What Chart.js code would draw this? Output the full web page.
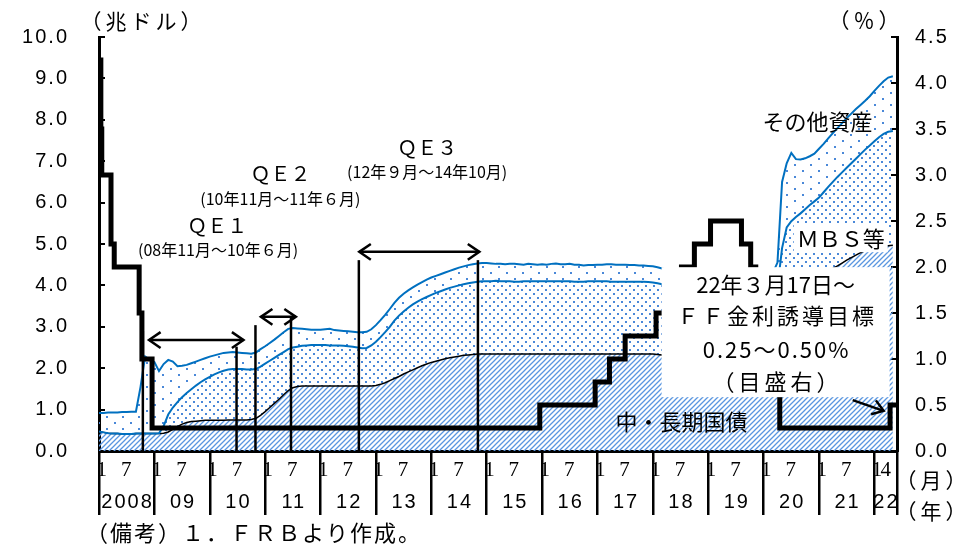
<!DOCTYPE html>
<html><head><meta charset="utf-8">
<script src="https://cdn.jsdelivr.net/npm/chart.js@4/dist/chart.umd.min.js"></script>
<style>html,body{margin:0;padding:0;background:#fff;}</style>
</head><body>
<canvas id="c" width="977" height="546"></canvas>
<script>
// ---------------- data (monthly, Jan 2008 .. May 2022) ----------------
const yearLabels = ['2008','09','10','11','12','13','14','15','16','17','18','19','20','21','22'];
const monthLabels = ['1','7'];
const lastYearMonthLabels = ['1','4'];
const leftTickValues = [0,1,2,3,4,5,6,7,8,9,10];
const rightTickValues = [0,0.5,1,1.5,2,2.5,3,3.5,4,4.5];

// 中・長期国債 (level, trillion $)
const treasury = [
 0.47,0.45,0.43,0.42,0.42,0.41,0.41,0.41,0.42,0.42,0.42,0.42,
 0.42,0.42,0.43,0.46,0.52,0.59,0.65,0.69,0.71,0.72,0.73,0.74,
 0.74,0.74,0.74,0.74,0.75,0.75,0.75,0.75,0.75,0.76,0.79,0.86,
 0.95,1.05,1.15,1.25,1.36,1.46,1.53,1.56,1.57,1.57,1.57,1.57,
 1.57,1.57,1.57,1.57,1.57,1.57,1.57,1.57,1.57,1.57,1.57,1.57,
 1.58,1.61,1.65,1.70,1.75,1.80,1.86,1.91,1.96,2.01,2.06,2.10,
 2.14,2.17,2.20,2.23,2.25,2.27,2.29,2.31,2.32,2.33,2.34,2.34,
 2.34,2.34,2.34,2.34,2.34,2.34,2.34,2.34,2.34,2.34,2.34,2.34,
 2.34,2.34,2.34,2.34,2.34,2.34,2.34,2.34,2.34,2.34,2.34,2.34,
 2.34,2.34,2.34,2.34,2.34,2.34,2.34,2.34,2.34,2.34,2.34,2.34,
 2.34,2.33,2.32,2.30,2.28,2.26,2.24,2.22,2.20,2.18,2.16,2.14,
 2.12,2.10,2.08,2.06,2.05,2.04,2.03,2.03,2.03,2.03,2.04,2.05,
 2.05,2.06,2.10,2.30,3.10,3.50,3.70,3.85,3.95,4.03,4.10,4.15,
 4.20,4.27,4.34,4.41,4.47,4.54,4.61,4.67,4.73,4.79,4.84,4.87,
 4.90,4.92,4.94,4.96,4.97
];
// 中・長期国債 + ＭＢＳ等 (level)
const treasuryPlusMbs = [
 0.47,0.45,0.43,0.42,0.42,0.41,0.41,0.41,0.42,0.42,0.42,0.42,
 0.42,0.43,0.60,0.88,1.05,1.18,1.30,1.40,1.49,1.58,1.66,1.73,
 1.79,1.85,1.90,1.94,1.97,1.98,1.98,1.98,1.97,1.97,1.98,2.04,
 2.11,2.18,2.25,2.32,2.39,2.46,2.50,2.52,2.54,2.55,2.56,2.56,
 2.56,2.56,2.55,2.55,2.55,2.54,2.53,2.52,2.50,2.48,2.49,2.55,
 2.64,2.75,2.87,3.00,3.15,3.27,3.37,3.46,3.54,3.61,3.67,3.72,
 3.77,3.82,3.86,3.90,3.94,3.97,4.00,4.03,4.05,4.07,4.09,4.10,
 4.10,4.10,4.11,4.10,4.10,4.10,4.09,4.09,4.10,4.10,4.10,4.10,
 4.10,4.10,4.10,4.10,4.10,4.10,4.10,4.09,4.09,4.09,4.10,4.10,
 4.10,4.10,4.10,4.09,4.09,4.09,4.09,4.09,4.09,4.09,4.09,4.08,
 4.07,4.05,4.03,4.00,3.97,3.94,3.91,3.88,3.85,3.81,3.78,3.75,
 3.72,3.69,3.66,3.63,3.61,3.59,3.57,3.55,3.53,3.52,3.55,3.60,
 3.62,3.65,3.75,3.95,4.90,5.40,5.55,5.65,5.74,5.84,5.94,6.03,
 6.12,6.25,6.38,6.50,6.62,6.73,6.84,6.95,7.06,7.17,7.28,7.38,
 7.48,7.58,7.66,7.71,7.73
];
// 総資産 (level, top line)
const totalAssets = [
 0.92,0.92,0.93,0.93,0.93,0.94,0.94,0.95,0.95,1.55,2.28,2.20,
 2.15,1.93,2.10,2.20,2.16,2.05,2.06,2.08,2.12,2.16,2.20,2.24,
 2.28,2.31,2.34,2.37,2.38,2.39,2.38,2.37,2.36,2.35,2.38,2.46,
 2.53,2.61,2.69,2.78,2.87,2.95,2.97,2.96,2.95,2.94,2.93,2.93,
 2.93,2.94,2.95,2.92,2.91,2.90,2.89,2.88,2.87,2.87,2.88,2.94,
 3.04,3.16,3.29,3.43,3.58,3.70,3.80,3.88,3.95,4.02,4.08,4.14,
 4.19,4.23,4.27,4.31,4.35,4.39,4.43,4.46,4.49,4.51,4.53,4.54,
 4.54,4.53,4.52,4.52,4.51,4.52,4.52,4.51,4.50,4.52,4.51,4.50,
 4.51,4.50,4.52,4.53,4.51,4.51,4.52,4.50,4.50,4.48,4.49,4.49,
 4.50,4.50,4.51,4.51,4.50,4.50,4.50,4.49,4.49,4.48,4.48,4.47,
 4.46,4.44,4.41,4.38,4.35,4.31,4.28,4.24,4.20,4.16,4.12,4.08,
 4.05,4.00,3.96,3.92,3.88,3.85,3.82,3.79,3.80,3.92,4.05,4.15,
 4.17,4.20,4.30,4.55,6.50,6.95,7.20,7.05,7.04,7.07,7.12,7.18,
 7.30,7.42,7.55,7.68,7.80,7.92,8.04,8.15,8.26,8.36,8.46,8.57,
 8.70,8.82,8.93,9.02,9.05
];
// FF rate target (upper bound, %), change points in months since Jan 2008
const ffMonth = [0,0.4,0.6,2.6,3.3,8.7,9.3,11.5,95.5,107.5,110.6,114,120.7,122.7,126.2,129,132.5,139.2,141.2,142.3,146.3,147.5,171.4,172.9];
const ffRate  = [4.25,3.5,3.0,2.25,2.0,1.5,1.0,0.25,0.5,0.75,1.0,1.25,1.5,1.75,2.0,2.25,2.5,2.25,2.0,1.75,1.25,0.25,0.5,0.5];

// ---------------- presentation ----------------
const X_MAX = 172.9;
const JP = '"Noto Sans CJK JP", "Noto Sans", sans-serif';

const monthTicks = [];
const boundarySet = new Set();
yearLabels.forEach((y, i) => {
  const b = 12 * i;
  boundarySet.add(b);
  monthTicks.push({ v: b, label: '' });
  if (i < yearLabels.length - 1) {
    monthTicks.push({ v: b + 0.8, label: monthLabels[0] });
    monthTicks.push({ v: b + 6.1, label: monthLabels[1] });
  } else {
    monthTicks.push({ v: b + 0.8, label: lastYearMonthLabels[0] });
    monthTicks.push({ v: b + 2.7, label: lastYearMonthLabels[1] });
  }
});
boundarySet.add(X_MAX);
monthTicks.push({ v: X_MAX, label: '' });

const yearTicks = yearLabels.map((y, i) => ({ v: i < yearLabels.length - 1 ? 12 * i + 6.2 : 170.6, label: y }));

const ctx0 = document.getElementById('c').getContext('2d');
function pattern(w, h, draw) {
  const c = document.createElement('canvas'); c.width = w; c.height = h;
  const g = c.getContext('2d'); draw(g);
  return ctx0.createPattern(c, 'repeat');
}
const hatch = pattern(5, 5, g => {
  g.strokeStyle = '#5a96e0'; g.lineWidth = 1.3;
  g.beginPath(); g.moveTo(0, 5); g.lineTo(5, 0); g.moveTo(-1, 1); g.lineTo(1, -1); g.moveTo(4, 6); g.lineTo(6, 4); g.stroke();
});
const denseDots = pattern(8, 8, g => {
  g.fillStyle = '#4a88d8'; g.fillRect(1, 1, 2, 2); g.fillRect(5, 5, 2, 2);
});
const sparseDots = pattern(16, 12, g => {
  g.fillStyle = '#4a88d8'; g.fillRect(2, 2, 2, 2); g.fillRect(10, 8, 2, 2);
});

const pts = arr => arr.map((v, i) => ({ x: i, y: v }));

// annotation config (data coordinates: month index, left-axis value)
const qeLines = [ {m:9.5, top:2.9}, {m:29.8, top:2.52}, {m:33.9, top:3.04}, {m:41.6, top:3.24}, {m:56.3, top:4.61}, {m:82.1, top:4.61} ];
const qeArrows = [ {m1:10.84, m2:31.3, v:2.68}, {m1:35.07, m2:42.66, v:3.24}, {m1:56.39, m2:82.41, v:4.81} ];
const labels = [
  {t:'ＱＥ１', m:25.6, v:5.46, s:20},
  {t:'(08年11月～10年６月)', m:25.8, v:4.86, s:16},
  {t:'ＱＥ２', m:39.3, v:6.71, s:20},
  {t:'(10年11月～11年６月)', m:39.3, v:6.09, s:16},
  {t:'ＱＥ３', m:71.1, v:7.34, s:20},
  {t:'(12年９月～14年10月)', m:71.1, v:6.74, s:16},
  {t:'その他資産', m:155.7, v:7.95, s:22},
  {t:'ＭＢＳ等', m:160.7, v:5.14, s:22, bg:true},
  {t:'中・長期国債', m:126.2, v:0.70, s:22}
];
const boxArea = {m1:121.9, m2:171.3, v1:4.44, v2:1.30};
const boxLines = [
  {t:'22年３月17日～', v:4.01, ls:0},
  {t:'ＦＦ金利誘導目標', v:3.26, ls:3},
  {t:'0.25～0.50%', v:2.46, ls:2},
  {t:'（目盛右）', v:1.67, ls:4}
];
const boxTextM = 146.6;
const boxArrow = {m1:163.3, v1:1.23, m2:170.0, v2:0.97};

function text(ctx, s, x, y, size, opt = {}) {
  ctx.save();
  ctx.font = size + 'px ' + (opt.family || JP);
  ctx.textAlign = opt.align || 'center';
  ctx.textBaseline = 'middle';
  ctx.letterSpacing = (opt.ls || 0) + 'px';
  const dx = (opt.align || 'center') === 'center' ? (opt.ls || 0) / 2 : 0;
  if (opt.bg) {
    const w = ctx.measureText(s).width;
    ctx.fillStyle = '#fff';
    ctx.fillRect(x - w / 2 - 3, y - size / 2 - 3, w + 6, size + 6);
  }
  ctx.fillStyle = '#000';
  ctx.fillText(s, x + dx, y);
  ctx.restore();
}
function arrow(ctx, x1, y1, x2, y2, both, head, w) {
  ctx.save();
  ctx.strokeStyle = '#000'; ctx.lineWidth = w; ctx.lineJoin = 'miter';
  ctx.beginPath(); ctx.moveTo(x1, y1); ctx.lineTo(x2, y2); ctx.stroke();
  const ang = Math.atan2(y2 - y1, x2 - x1), a = 0.6;
  const tip = (x, y, an) => {
    ctx.beginPath();
    ctx.moveTo(x - head * Math.cos(an - a), y - head * Math.sin(an - a));
    ctx.lineTo(x, y);
    ctx.lineTo(x - head * Math.cos(an + a), y - head * Math.sin(an + a));
    ctx.stroke();
  };
  tip(x2, y2, ang);
  if (both) tip(x1, y1, ang + Math.PI);
  ctx.restore();
}

const annot = {
  id: 'annot',
  beforeDraw(chart) { chart.ctx.letterSpacing = '2px'; },
  beforeDatasetsDraw(chart) { chart.ctx.letterSpacing = '0px'; },
  afterDatasetsDraw(chart) {
    const ctx = chart.ctx, X = chart.scales.x, Y = chart.scales.y;
    const px = m => X.getPixelForValue(m), py = v => Y.getPixelForValue(v);
    ctx.save();
    ctx.strokeStyle = '#000'; ctx.lineWidth = 2.5;
    qeLines.forEach(l => { ctx.beginPath(); ctx.moveTo(px(l.m), py(l.top)); ctx.lineTo(px(l.m), py(0)); ctx.stroke(); });
    ctx.restore();
    qeArrows.forEach(a => arrow(ctx, px(a.m1), py(a.v), px(a.m2), py(a.v), true, 14, 2.5));
    // white box
    ctx.save(); ctx.fillStyle = '#fff';
    ctx.fillRect(px(boxArea.m1), py(boxArea.v1), px(boxArea.m2) - px(boxArea.m1), py(boxArea.v2) - py(boxArea.v1));
    ctx.restore();
    boxLines.forEach(b => text(ctx, b.t, px(boxTextM), py(b.v), 22, {ls: b.ls}));
    arrow(ctx, px(boxArrow.m1), py(boxArrow.v1), px(boxArrow.m2), py(boxArrow.v2), false, 13, 2.5);
    labels.forEach(l => text(ctx, l.t, px(l.m), py(l.v), l.s, {bg: l.bg}));
  },
  afterDraw(chart) {
    const ctx = chart.ctx;
    ctx.letterSpacing = '0px';
    text(ctx, '（兆ドル）', 141, 21, 21, {ls: 4});
    text(ctx, '（％）', 864, 20, 21, {ls: 4});
    text(ctx, '（月）', 931, 480, 21, {ls: 4});
    text(ctx, '（年）', 931, 511, 21, {ls: 4});
    text(ctx, '（備考）１．ＦＲＢより作成。', 86, 533, 22, {align: 'left', ls: 2});
  }
};

new Chart(ctx0, {
  type: 'line',
  data: {
    datasets: [
      { label: 'FF', data: ffMonth.map((m, i) => ({ x: m, y: ffRate[i] })), yAxisID: 'y1', xAxisID: 'x',
        stepped: true, borderColor: '#000', borderWidth: 5, pointRadius: 0, fill: false },
      { label: 'その他資産', data: pts(totalAssets), yAxisID: 'y', xAxisID: 'x',
        borderColor: '#0070C0', borderWidth: 2, backgroundColor: sparseDots, fill: '+1', pointRadius: 0, tension: 0 },
      { label: 'ＭＢＳ等', data: pts(treasuryPlusMbs), yAxisID: 'y', xAxisID: 'x',
        borderColor: '#0070C0', borderWidth: 2, backgroundColor: denseDots, fill: '+1', pointRadius: 0, tension: 0 },
      { label: '中・長期国債', data: pts(treasury), yAxisID: 'y', xAxisID: 'x',
        borderColor: '#000', borderWidth: 1.5, backgroundColor: hatch, fill: 'origin', pointRadius: 0, tension: 0 }
    ]
  },
  options: {
    responsive: false, animation: false, devicePixelRatio: 1,
    layout: { padding: { top: 37, left: 0, right: 0, bottom: 0 } },
    plugins: { legend: { display: false }, tooltip: { enabled: false }, filler: { drawTime: 'beforeDatasetsDraw' } },
    scales: {
      x: {
        type: 'linear', position: 'bottom', min: 0, max: X_MAX,
        afterBuildTicks: s => { s.ticks = monthTicks.map(t => ({ value: t.v })); },
        afterFit: s => { s.height = 30; s.paddingLeft = 0; s.paddingRight = 0; },
        ticks: { autoSkip: false, maxRotation: 0, minRotation: 0, padding: -55, color: '#000',
          font: { family: '"Liberation Serif", serif', size: 21, lineHeight: '20px' },
          callback: (v, i) => monthTicks[i] ? monthTicks[i].label : '' },
        grid: { drawOnChartArea: false, drawTicks: true, tickLength: 64, lineWidth: 2.5,
          color: c => (c.tick && boundarySet.has(c.tick.value)) ? '#000' : 'rgba(0,0,0,0)' },
        border: { display: true, color: '#000', width: 3 }
      },
      xYear: {
        type: 'linear', position: 'bottom', min: 0, max: X_MAX,
        afterBuildTicks: s => { s.ticks = yearTicks.map(t => ({ value: t.v })); },
        afterFit: s => { s.height = 65; s.paddingLeft = 0; s.paddingRight = 0; },
        ticks: { autoSkip: false, maxRotation: 0, minRotation: 0, padding: 10, color: '#000',
          font: { family: '"Liberation Sans", Arial, sans-serif', size: 20, lineHeight: '22px' },
          callback: (v, i) => yearTicks[i] ? yearTicks[i].label : '' },
        grid: { display: false, drawTicks: false, drawOnChartArea: false },
        border: { display: false }
      },
      y: {
        type: 'linear', position: 'left', min: 0, max: 10,
        afterBuildTicks: s => { s.ticks = leftTickValues.map(v => ({ value: v })); },
        afterFit: s => { s.width = 99; s.paddingTop = 10; s.paddingBottom = 10; },
        ticks: { padding: 36, color: '#000', font: { family: '"Liberation Sans", Arial, sans-serif', size: 20 },
          callback: v => Number(v).toFixed(1) },
        grid: { drawOnChartArea: false, drawTicks: true, tickLength: -6, lineWidth: 2, color: '#000' },
        border: { display: true, color: '#000', width: 3 }
      },
      y1: {
        type: 'linear', position: 'right', min: 0, max: 4.5,
        afterBuildTicks: s => { s.ticks = rightTickValues.map(v => ({ value: v })); },
        afterFit: s => { s.width = 80; s.paddingTop = 10; s.paddingBottom = 10; },
        ticks: { padding: 24, color: '#000', font: { family: '"Liberation Sans", Arial, sans-serif', size: 20 },
          callback: v => Number(v).toFixed(1) },
        grid: { drawOnChartArea: false, drawTicks: true, tickLength: -6, lineWidth: 2, color: '#000' },
        border: { display: true, color: '#000', width: 3 }
      }
    }
  },
  plugins: [annot]
});
</script>
</body></html>
